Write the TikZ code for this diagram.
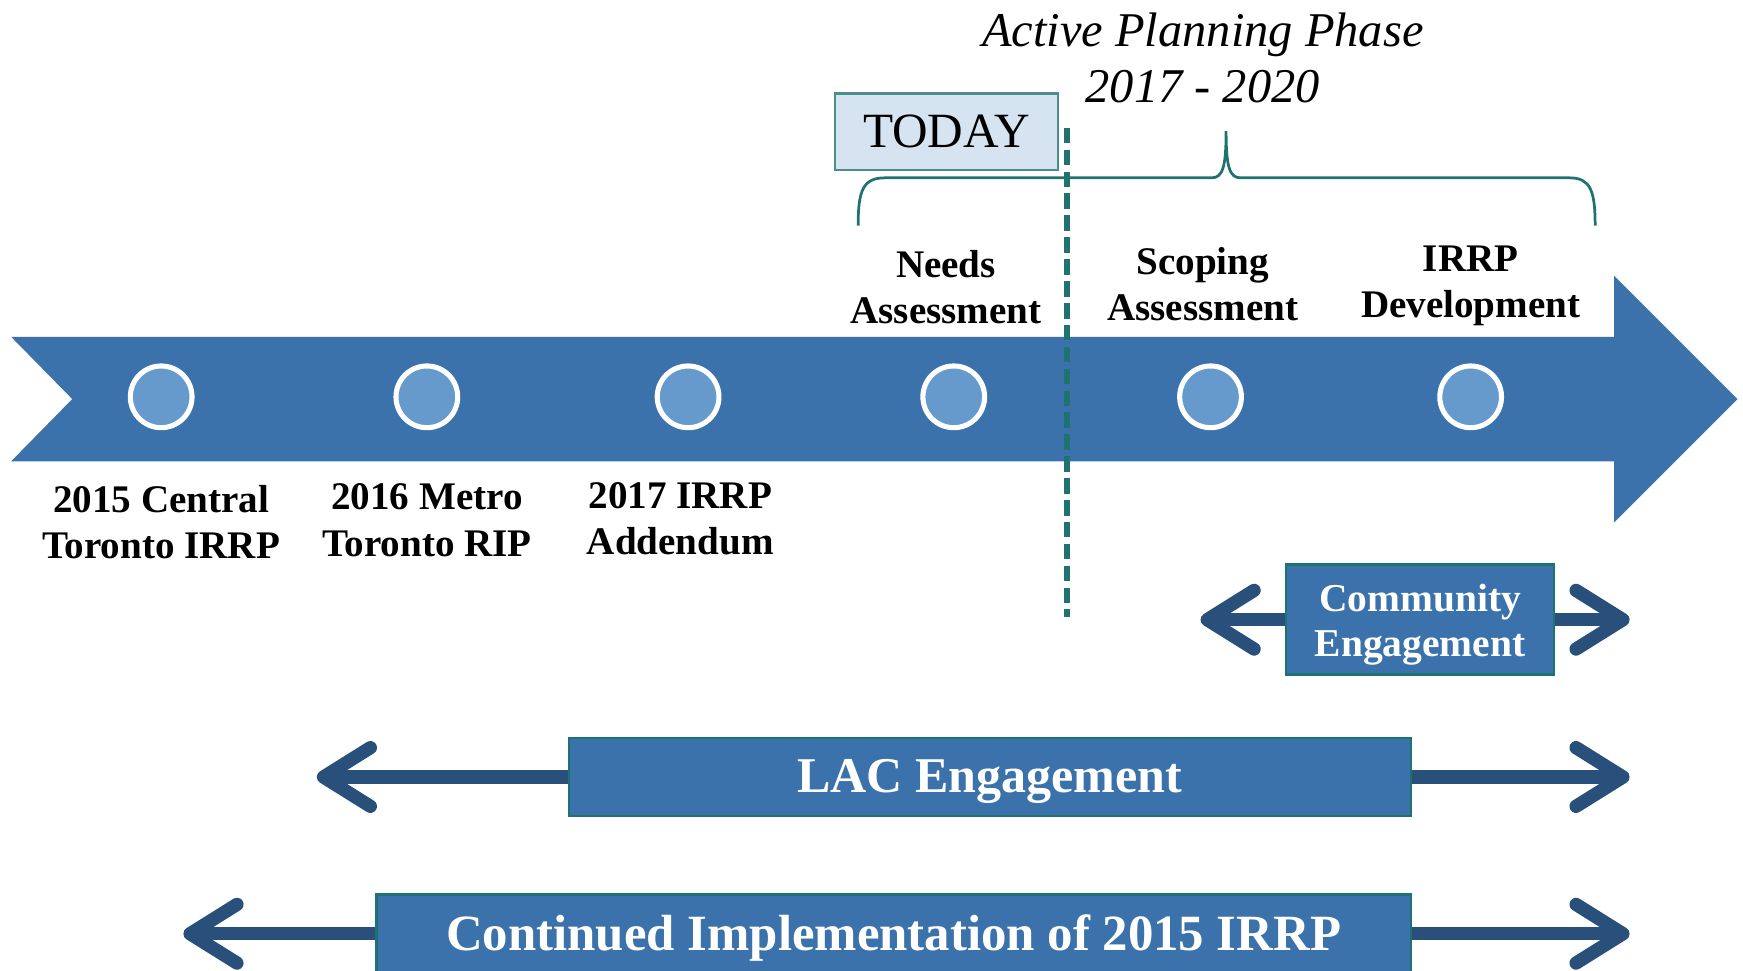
\documentclass[tikz,border=0pt]{standalone}
\usepackage{fontspec}
\setmainfont{Liberation Serif}
\usetikzlibrary{arrows.meta}
\definecolor{bandblue}{HTML}{3B72AB}
\definecolor{dotblue}{HTML}{6699CC}
\definecolor{arrowblue}{HTML}{29507A}
\definecolor{phaseteal}{HTML}{1E7371}
\definecolor{todayfill}{HTML}{D6E3F0}
\newcommand{\lowered}[1]{\raisebox{0pt}[\dimexpr\height+2.4pt\relax]{#1}}
\tikzset{
    dot/.style={circle, draw=white, line width=1.3pt, fill=dotblue, minimum size=0.555cm, inner sep=0pt},
    milestone/.style={align=center, font=\fontsize{10}{11.8}\selectfont\bfseries},
    engbox/.style={draw=phaseteal, line width=0.7pt, fill=bandblue, text=white, align=center, inner sep=0pt},
    engarrow/.style={arrowblue, line width=3.4pt, -{Straight Barb[length=12pt, width=15pt, round]}},
}
\begin{document}
\begin{tikzpicture}[x=0.01cm, y=-0.01cm]
        \useasboundingbox (0,0) rectangle (1568,873.5);
        \def \bandtop {303}   % upper edge of timeline band
        \def \bandbot {415}   % lower edge of timeline band
        \def \bandmid {359}   % middle of timeline band
        % timeline band with notch and head
        \fill[bandblue] (10,\bandtop) -- (1452,\bandtop) -- (1452,248) -- (1563,\bandmid) --
            (1452,470) -- (1452,\bandbot) -- (10,\bandbot) -- (65,\bandmid) -- cycle;
        % milestone dots
        \foreach \x/\n in {145/a, 384/b, 619/c, 858/d, 1089/e, 1323/f}
            \node[dot] (dot\n) at (\x,357) {};
        % milestones below band
        \node[milestone] (cent) at (145,470) {2015 Central\\Toronto IRRP};
        \node[milestone] (metro) at (384,468) {2016 Metro\\Toronto RIP};
        \node[milestone] (addm) at (612,467) {2017 IRRP\\Addendum};
        % phases above band
        \node[milestone] (needs) at (851,258) {Needs\\Assessment};
        \node[milestone] (scope) at (1082,256) {Scoping\\Assessment};
        \node[milestone] (devel) at (1323,257) {IRRP\\Development};
        % active planning phase
        \node[align=center, font=\fontsize{12.4}{14.3}\selectfont\itshape] (phase) at (1082,52)
            {Active Planning Phase\\2017 - 2020};
        \draw[phaseteal, line width=0.7pt] (772,203) .. controls (772,172) and (776,160) .. (796,160)
            -- (1090,160) .. controls (1100,160) and (1103,150) .. (1103,118)
            .. controls (1103,150) and (1106,160) .. (1116,160)
            -- (1412,160) .. controls (1431,160) and (1435,172) .. (1435,203);
        % today marker
        \node[draw=phaseteal!80, line width=0.6pt, fill=todayfill, minimum width=2.01cm, minimum height=0.69cm,
            font=\fontsize{12.6}{15}\selectfont] (today) at (851.5,118.5) {TODAY};
        \coordinate (todaytop) at (960,115);
        \coordinate (todaybot) at (960,555);
        \draw[phaseteal, line width=1.5pt, dash pattern=on 4pt off 1.6pt] (todaytop) -- (todaybot);
        % community engagement
        \node[engbox, minimum width=2.41cm, minimum height=0.99cm,
            font=\fontsize{10.1}{11.5}\selectfont\bfseries] (comm) at (1277.5,557.5)
            {\lowered{Community}\\Engagement};
        \coordinate (comml) at (1080,557.5);
        \coordinate (commr) at (1466,557.5);
        \draw[engarrow] (comm.west) -- (comml);
        \draw[engarrow] (comm.east) -- (commr);
        % LAC engagement
        \node[engbox, minimum width=7.57cm, minimum height=0.70cm,
            font=\fontsize{12.8}{15}\selectfont\bfseries] (lac) at (890.5,699) {\lowered{LAC Engagement}};
        \coordinate (lacl) at (285,699);
        \coordinate (lacr) at (1466,699);
        \draw[engarrow] (lac.west) -- (lacl);
        \draw[engarrow] (lac.east) -- (lacr);
        % continued implementation
        \node[engbox, minimum width=9.30cm, minimum height=0.70cm,
            font=\fontsize{13}{15}\selectfont\bfseries] (impl) at (804,840)
            {\lowered{Continued Implementation of 2015 IRRP}};
        \coordinate (impll) at (165,840);
        \coordinate (implr) at (1466,840);
        \draw[engarrow] (impl.west) -- (impll);
        \draw[engarrow] (impl.east) -- (implr);
\end{tikzpicture}
\end{document}
